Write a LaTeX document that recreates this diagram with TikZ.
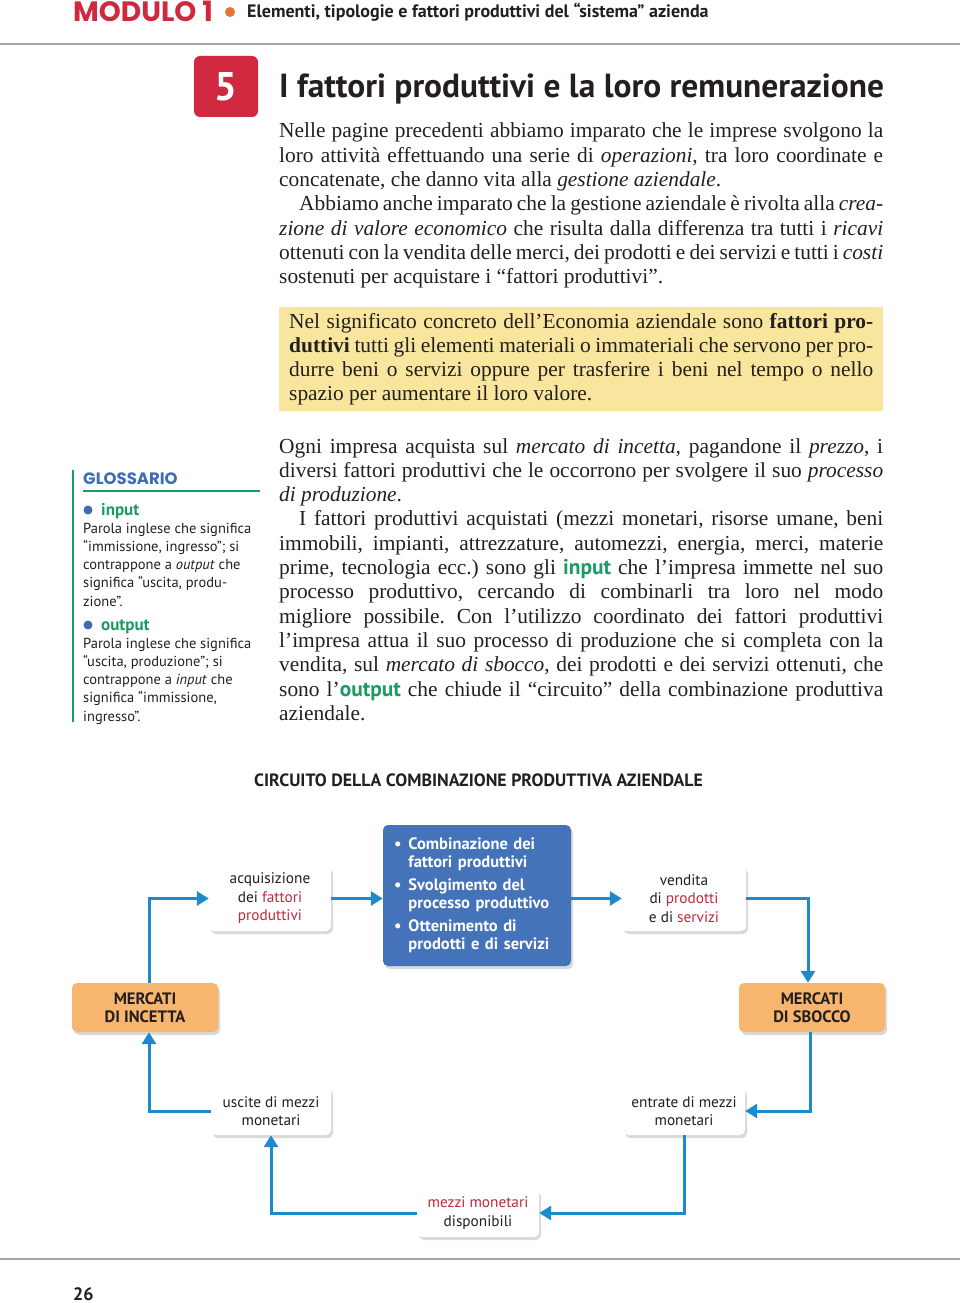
\documentclass[tikz,border=0pt]{standalone}
\usepackage{fontspec}
\setmainfont{Liberation Serif}
\setsansfont{PT Sans}
\newfontfamily\tondo{Poppins}
\usetikzlibrary{arrows.meta,shadows}
\frenchspacing

\definecolor{testo}{HTML}{231F20}
\definecolor{rosso}{HTML}{D0293F}
\definecolor{puntino}{HTML}{E8733A}
\definecolor{grigio}{HTML}{A3A3A3}
\definecolor{verde}{HTML}{1B9A62}
\definecolor{bluglos}{HTML}{3D6DB5}
\definecolor{giallo}{HTML}{F8E69E}
\definecolor{bluscatola}{HTML}{4573B9}
\definecolor{freccia}{HTML}{1C8BCB}
\definecolor{arancio}{HTML}{F8B56E}
\definecolor{rossotesto}{HTML}{BE2A3E}

% riga giustificata
\newcommand\giust[2][604pt]{\makebox[#1][s]{\frenchspacing\spaceskip=.25em plus 1em minus .12em\relax#2}}
\newcommand\parola[1]{{\sffamily\bfseries\color{verde}#1}}
\newcommand\rt[1]{\textcolor{rossotesto}{#1}}

\tikzset{
  riga/.style={anchor=base west, inner sep=0pt, text=testo, font=\fontsize{21.4}{24}\selectfont},
  glosriga/.style={anchor=base west, inner sep=0pt, text=testo, font=\sffamily\fontsize{14.5}{18}\selectfont},
  voce/.style={anchor=base west, inner sep=0pt, text=verde, font=\sffamily\bfseries\fontsize{17}{20}\selectfont},
  casella/.style={rounded corners=5pt, fill=white, inner sep=2pt, align=center, text=testo,
    font=\sffamily\fontsize{15.3}{18.5}\selectfont,
    drop shadow={shadow xshift=2pt, shadow yshift=-3pt, opacity=.3}},
  mercato/.style={casella, fill=arancio, font=\sffamily\bfseries\fontsize{16.5}{18.5}\selectfont,
    minimum width=146pt, minimum height=49pt},
  flusso/.style={draw=freccia, line width=3pt, -{Triangle[length=12pt,width=14pt]}},
}

\begin{document}
\begin{tikzpicture}[x=1pt,y=-1pt]
\useasboundingbox (0,0) rectangle (960,1303);

% Testata
\node[anchor=base west, inner sep=0pt, text=rosso, font=\tondo\bfseries\fontsize{28}{30}\selectfont] (modulo) at (73,22) {MODULO 1};
\fill[puntino] (230,12) circle (5);
\node[anchor=base west, inner sep=0pt, text=testo, font=\sffamily\bfseries\fontsize{18}{20}\selectfont] (sottotit) at (247,18) {Elementi, tipologie e fattori produttivi del “sistema” azienda};
\draw[grigio, line width=2.5pt] (0,44) -- (960,44);

% Titolo
\node[fill=rosso, rounded corners=6pt, minimum width=64pt, minimum height=61pt, text=white, font=\sffamily\bfseries\fontsize{40}{40}\selectfont] (numero) at (226,86.5) {5};
\node[anchor=base west, inner sep=0pt, text=testo, font=\sffamily\bfseries\fontsize{33.4}{36}\selectfont] (titolo) at (279,98) {I fattori produttivi e la loro remunerazione};

% Primo paragrafo
\node[riga] (a1) at (279,138) {\giust{Nelle pagine precedenti abbiamo imparato che le imprese svolgono la}};
\node[riga] (a2) at (279,162.3) {\giust{loro attività effettuando una serie di \textit{operazioni}, tra loro coordinate e}};
\node[riga] (a3) at (279,186.6) {concatenate, che danno vita alla \textit{gestione aziendale}.};
\node[riga] (a4) at (299,210.9) {\giust[584pt]{Abbiamo anche imparato che la gestione aziendale è rivolta alla \textit{crea-}}};
\node[riga] (a5) at (279,235.2) {\giust{\textit{zione di valore economico} che risulta dalla differenza tra tutti i \textit{ricavi}}};
\node[riga] (a6) at (279,259.5) {\giust{ottenuti con la vendita delle merci, dei prodotti e dei servizi e tutti i \textit{costi}}};
\node[riga] (a7) at (279,283.8) {sostenuti per acquistare i “fattori produttivi”.};

% Definizione
\fill[giallo] (279,307) rectangle (883,411);
\node[riga] (b1) at (289,328) {\giust[584pt]{Nel significato concreto dell’Economia aziendale sono \textbf{fattori pro-}}};
\node[riga] (b2) at (289,352.3) {\giust[584pt]{\textbf{duttivi} tutti gli elementi materiali o immateriali che servono per pro-}};
\node[riga] (b3) at (289,376.6) {\giust[584pt]{durre beni o servizi oppure per trasferire i beni nel tempo o nello}};
\node[riga] (b4) at (289,400.9) {spazio per aumentare il loro valore.};

% Secondo paragrafo
\node[riga] (c1) at (279,453) {\giust{Ogni impresa acquista sul \textit{mercato di incetta}, pagandone il \textit{prezzo}, i}};
\node[riga] (c2) at (279,477.3) {\giust{diversi fattori produttivi che le occorrono per svolgere il suo \textit{processo}}};
\node[riga] (c3) at (279,501.6) {\textit{di produzione}.};
\node[riga] (c4) at (299,525.9) {\giust[584pt]{I fattori produttivi acquistati (mezzi monetari, risorse umane, beni}};
\node[riga] (c5) at (279,550.2) {\giust{immobili, impianti, attrezzature, automezzi, energia, merci, materie}};
\node[riga] (c6) at (279,574.5) {\giust{prime, tecnologia ecc.) sono gli \parola{input} che l’impresa immette nel suo}};
\node[riga] (c7) at (279,598.8) {\giust{processo produttivo, cercando di combinarli tra loro nel modo}};
\node[riga] (c8) at (279,623.1) {\giust{migliore possibile. Con l’utilizzo coordinato dei fattori produttivi}};
\node[riga] (c9) at (279,647.4) {\giust{l’impresa attua il suo processo di produzione che si completa con la}};
\node[riga] (c10) at (279,671.7) {\giust{vendita, sul \textit{mercato di sbocco}, dei prodotti e dei servizi ottenuti, che}};
\node[riga] (c11) at (279,696) {\giust{sono l’\parola{output} che chiude il “circuito” della combinazione produttiva}};
\node[riga] (c12) at (279,720.3) {aziendale.};

% Glossario
\draw[verde, line width=2.5pt] (73,470) -- (73,722);
\node[anchor=base west, inner sep=0pt, text=bluglos, font=\tondo\bfseries\fontsize{16.5}{18}\selectfont] (glossario) at (83,484) {GLOSSARIO};
\draw[verde, line width=2pt] (83,491) -- (260,491);
\fill[bluglos] (88,510) circle (4.5);
\node[voce] (vin) at (101,515) {input};
\node[glosriga] (g1) at (83,533) {Parola inglese che significa};
\node[glosriga] (g2) at (83,551.3) {“immissione, ingresso”; si};
\node[glosriga] (g3) at (83,569.6) {contrappone a \textit{output} che};
\node[glosriga] (g4) at (83,587.9) {significa “uscita, produ-};
\node[glosriga] (g5) at (83,606.2) {zione”.};
\fill[bluglos] (88,625) circle (4.5);
\node[voce] (vout) at (101,630) {output};
\node[glosriga] (g6) at (83,648) {Parola inglese che significa};
\node[glosriga] (g7) at (83,666.3) {“uscita, produzione”; si};
\node[glosriga] (g8) at (83,684.6) {contrappone a \textit{input} che};
\node[glosriga] (g9) at (83,702.9) {significa “immissione,};
\node[glosriga] (g10) at (83,721.2) {ingresso”.};

% Schema
\node[anchor=base west, inner sep=0pt, text=testo, font=\sffamily\bfseries\fontsize{17.8}{20}\selectfont] (circuito) at (254,786) {CIRCUITO DELLA COMBINAZIONE PRODUTTIVA AZIENDALE};

\node[casella, minimum width=122pt, minimum height=65pt] (acq) at (270,898.5) {acquisizione\\dei \rt{fattori}\\\rt{produttivi}};
\node[casella, fill=bluscatola, text=white, minimum width=188pt, minimum height=141pt, text width=166pt, align=left,
  font=\sffamily\bfseries\fontsize{16.5}{18}\selectfont] (comb) at (477,895.5)
  {\begin{tabular}{@{}l@{\hspace{7pt}}l@{}}
   \textbullet & Combinazione dei\\ & fattori produttivi\\[5pt]
   \textbullet & Svolgimento del\\ & processo produttivo\\[5pt]
   \textbullet & Ottenimento di\\ & prodotti e di servizi
   \end{tabular}};
\node[casella, minimum width=124pt, minimum height=65pt] (vend) at (684,898.5) {vendita\\di \rt{prodotti}\\e di \rt{servizi}};
\node[mercato] (incetta) at (145,1007.5) {MERCATI\\DI INCETTA};
\node[mercato] (sbocco) at (812,1007.5) {MERCATI\\DI SBOCCO};
\node[casella, minimum width=120pt, minimum height=48pt] (uscite) at (271,1111) {uscite di mezzi\\monetari};
\node[casella, minimum width=122pt, minimum height=48pt] (entrate) at (684,1111) {entrate di mezzi\\monetari};
\node[casella, minimum width=122pt, minimum height=48pt] (mezzi) at (478,1213) {\rt{mezzi monetari}\\disponibili};

\draw[flusso] ([xshift=4pt]incetta.north) |- (acq.west);
\draw[flusso] (acq.east) -- (acq.east -| comb.west);
\draw[flusso] (comb.east |- vend.west) -- (vend.west);
\draw[flusso] (vend.east) -| ([xshift=-4pt]sbocco.north);
\draw[flusso] ([xshift=-2pt]sbocco.south) |- (entrate.east);
\draw[flusso] (entrate.south) |- (mezzi.east);
\draw[flusso] (mezzi.west) -| (uscite.south);
\draw[flusso] (uscite.west) -| ([xshift=4pt]incetta.south);

% Piede
\draw[grigio, line width=2.5pt] (0,1259) -- (960,1259);
\node[anchor=base west, inner sep=0pt, text=testo, font=\sffamily\bfseries\fontsize{18}{20}\selectfont] (pagina) at (73,1300) {26};

\end{tikzpicture}
\end{document}
